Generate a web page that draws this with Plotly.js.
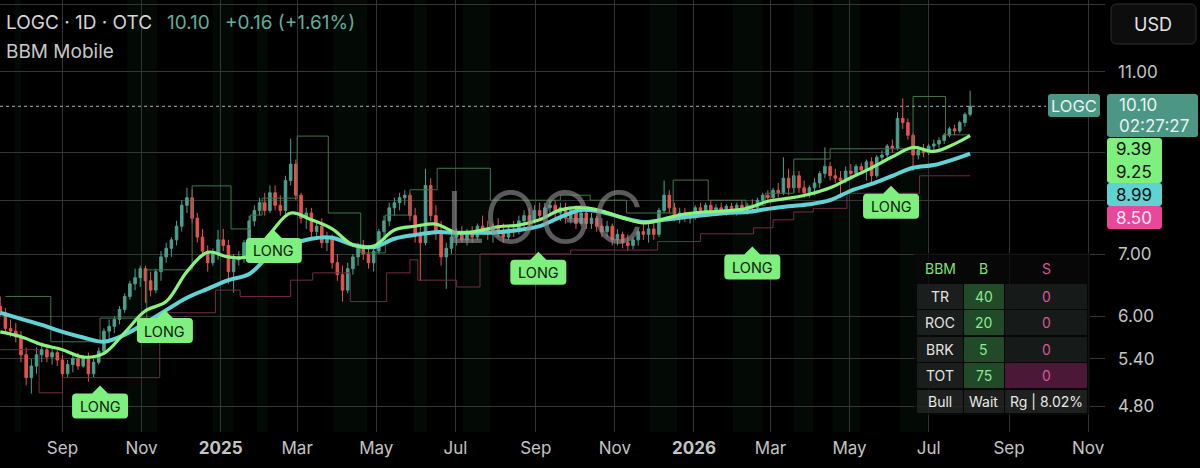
<!DOCTYPE html>
<html><head><meta charset="utf-8">
<script src="https://cdn.plot.ly/plotly-3.0.1.min.js"></script>
<style>html,body{margin:0;padding:0;background:#000;overflow:hidden}#chart{width:1200px;height:468px}</style>
</head><body><div id="chart"></div>
<script>
// ---------- DATA ----------
const dates = ['2024-07-15','2024-07-19','2024-07-23','2024-07-27','2024-07-31',
'2024-08-04','2024-08-08','2024-08-12','2024-08-16','2024-08-20','2024-08-24','2024-08-28',
'2024-09-01','2024-09-05','2024-09-09','2024-09-13','2024-09-17','2024-09-21','2024-09-25','2024-09-29',
'2024-10-03','2024-10-07','2024-10-11','2024-10-15','2024-10-19','2024-10-23','2024-10-27','2024-10-31',
'2024-11-04','2024-11-08','2024-11-12','2024-11-16','2024-11-20','2024-11-24','2024-11-28',
'2024-12-02','2024-12-06','2024-12-10','2024-12-14','2024-12-18','2024-12-22','2024-12-26','2024-12-30',
'2025-01-03','2025-01-07','2025-01-11','2025-01-15','2025-01-19','2025-01-23','2025-01-27','2025-01-31',
'2025-02-04','2025-02-08','2025-02-12','2025-02-16','2025-02-20','2025-02-24','2025-02-28',
'2025-03-04','2025-03-08','2025-03-12','2025-03-16','2025-03-20','2025-03-24','2025-03-28',
'2025-04-01','2025-04-05','2025-04-09','2025-04-13','2025-04-17','2025-04-21','2025-04-25','2025-04-29',
'2025-05-03','2025-05-07','2025-05-11','2025-05-15','2025-05-19','2025-05-23','2025-05-27','2025-05-31',
'2025-06-04','2025-06-08','2025-06-12','2025-06-16','2025-06-20','2025-06-24','2025-06-28',
'2025-07-02','2025-07-06','2025-07-10','2025-07-14','2025-07-18','2025-07-22','2025-07-26','2025-07-30',
'2025-08-03','2025-08-07','2025-08-11','2025-08-15','2025-08-19','2025-08-23','2025-08-27','2025-08-31',
'2025-09-04','2025-09-08','2025-09-12','2025-09-16','2025-09-20','2025-09-24','2025-09-28',
'2025-10-02','2025-10-06','2025-10-10','2025-10-14','2025-10-18','2025-10-22','2025-10-26','2025-10-30',
'2025-11-03','2025-11-07','2025-11-11','2025-11-15','2025-11-19','2025-11-23','2025-11-27',
'2025-12-01','2025-12-05','2025-12-09','2025-12-13','2025-12-17','2025-12-21','2025-12-25','2025-12-29',
'2026-01-02','2026-01-06','2026-01-10','2026-01-14','2026-01-18','2026-01-22','2026-01-26','2026-01-30',
'2026-02-03','2026-02-07','2026-02-11','2026-02-15','2026-02-19','2026-02-23','2026-02-27',
'2026-03-03','2026-03-07','2026-03-11','2026-03-15','2026-03-19','2026-03-23','2026-03-27','2026-03-31',
'2026-04-04','2026-04-08','2026-04-12','2026-04-16','2026-04-20','2026-04-24','2026-04-28',
'2026-05-02','2026-05-06','2026-05-10','2026-05-14','2026-05-18','2026-05-22','2026-05-26','2026-05-30',
'2026-06-03','2026-06-07','2026-06-11','2026-06-15','2026-06-19','2026-06-23','2026-06-27',
'2026-07-01','2026-07-05','2026-07-09','2026-07-13','2026-07-17','2026-07-21','2026-07-25','2026-07-29',
'2026-08-02'];

const openPx = [6.15,6.05,5.82,5.78,5.70,5.45,5.15,5.30,5.45,5.52,
5.42,5.48,5.38,5.20,5.32,5.40,5.30,5.42,5.20,5.35,
5.50,5.78,5.85,5.95,6.10,6.30,6.50,6.60,6.75,6.55,
6.40,6.70,6.95,7.10,7.25,7.50,7.90,8.05,7.65,7.30,
7.05,6.85,7.00,7.25,7.15,6.70,6.90,6.95,7.20,7.60,
7.80,7.95,7.80,8.15,7.90,7.80,8.40,8.75,8.10,7.65,
7.75,7.40,7.50,7.20,7.30,6.85,6.65,6.40,6.75,6.95,
7.10,7.00,6.85,7.05,7.40,7.60,7.85,7.95,8.05,8.10,
7.70,7.35,7.20,8.30,7.70,7.40,6.95,7.10,7.30,7.35,
7.25,7.40,7.30,7.50,7.45,7.35,7.50,7.40,7.30,7.45,
7.40,7.60,7.70,7.60,7.80,7.70,7.85,7.90,7.75,7.85,
7.65,7.80,7.55,7.75,7.55,7.65,7.50,7.40,7.50,7.25,
7.35,7.20,7.15,7.25,7.40,7.35,7.45,7.35,7.80,8.10,
7.85,7.70,7.75,7.65,7.70,7.85,7.80,7.90,7.80,7.85,
7.78,7.88,7.80,7.90,7.82,7.90,7.85,8.00,8.10,8.05,
8.20,8.15,8.45,8.25,8.50,8.25,8.15,8.25,8.35,8.55,
8.70,8.50,8.45,8.40,8.60,8.55,8.70,8.62,8.80,8.50,
8.90,8.95,9.15,9.10,9.80,9.70,9.40,8.95,9.05,9.00,
9.15,9.20,9.28,9.40,9.55,9.50,9.70,9.90];

const highPx = [6.30,6.12,5.95,5.90,5.78,5.55,5.40,5.55,5.62,5.60,
5.55,5.52,5.45,5.38,5.45,5.48,5.45,5.48,5.40,5.55,
5.82,5.95,6.00,6.15,6.35,6.55,6.75,6.80,6.80,6.70,
6.75,7.05,7.20,7.30,7.60,8.00,8.25,8.22,7.75,7.45,
7.15,7.10,7.43,7.45,7.25,7.00,7.05,7.25,7.70,7.90,
8.05,8.15,8.30,8.30,8.10,8.50,9.32,8.85,8.15,7.85,
7.85,7.60,7.65,7.40,7.35,7.00,6.80,6.85,7.00,7.20,
7.25,7.15,7.10,7.45,7.70,7.95,8.05,8.15,8.20,8.15,
7.85,7.55,8.65,8.45,7.90,7.60,7.20,7.40,7.45,7.50,
7.45,7.50,7.55,7.70,7.60,7.55,7.65,7.55,7.50,7.60,
7.70,7.80,7.85,7.90,7.95,7.95,8.00,8.00,7.95,7.95,
7.85,7.90,7.85,7.85,7.75,7.70,7.65,7.60,7.55,7.45,
7.40,7.35,7.30,7.45,7.55,7.55,7.60,7.85,8.40,8.20,
7.95,7.85,7.85,7.75,7.90,7.95,7.95,8.00,7.92,7.95,
7.92,7.95,7.95,7.98,7.95,8.02,8.05,8.15,8.20,8.25,
8.35,8.90,8.65,8.60,8.60,8.40,8.30,8.45,8.60,9.12,
8.80,8.65,8.60,8.70,8.75,8.75,8.78,8.85,8.90,8.95,
9.05,9.20,9.30,9.95,10.30,9.80,9.45,9.15,9.20,9.20,
9.30,9.35,9.45,9.60,9.65,9.75,9.95,10.50];

const lowPx = [6.00,5.75,5.70,5.62,5.35,5.05,4.95,5.20,5.35,5.35,
5.32,5.30,5.15,5.15,5.22,5.25,5.28,5.10,5.15,5.32,
5.48,5.65,5.75,5.88,6.05,6.25,6.40,6.45,6.20,6.30,
6.35,6.55,6.85,6.95,7.15,7.40,7.75,7.55,7.20,6.95,
6.70,6.80,6.90,7.05,6.50,6.36,6.80,6.85,7.15,7.50,
7.70,7.70,7.75,7.80,7.70,7.70,8.30,8.00,7.55,7.45,
7.30,7.25,7.10,7.05,6.75,6.55,6.22,6.35,6.65,6.80,
6.90,6.75,6.70,7.00,7.30,7.50,7.70,7.80,7.90,7.60,
7.20,6.55,7.15,7.60,7.25,6.80,6.42,7.00,7.15,7.20,
7.15,7.20,7.25,7.35,7.25,7.20,7.30,7.20,7.25,7.30,
7.35,7.45,7.50,7.55,7.60,7.65,7.70,7.65,7.60,7.55,
7.55,7.45,7.50,7.45,7.45,7.40,7.30,7.30,7.15,7.15,
7.10,7.05,7.08,7.15,7.25,7.20,7.25,7.30,7.75,7.75,
7.60,7.55,7.58,7.55,7.62,7.70,7.70,7.72,7.70,7.70,
7.70,7.72,7.70,7.75,7.72,7.78,7.80,7.90,7.95,8.00,
8.05,8.10,8.10,8.15,8.15,8.05,8.05,8.10,8.25,8.45,
8.40,8.35,8.05,8.35,8.45,8.50,8.55,8.40,8.35,8.45,
8.75,8.85,9.00,9.05,9.55,9.30,8.60,8.85,8.90,8.95,
9.05,9.10,9.20,9.35,9.40,9.45,9.60,9.85];

const closePx = [6.05,5.82,5.78,5.70,5.45,5.15,5.30,5.45,5.52,5.42,
5.48,5.38,5.20,5.32,5.40,5.30,5.42,5.20,5.35,5.50,
5.78,5.85,5.95,6.10,6.30,6.50,6.60,6.75,6.55,6.40,
6.70,6.95,7.10,7.25,7.50,7.90,8.05,7.65,7.30,7.05,
6.85,7.00,7.25,7.15,6.70,6.90,6.95,7.20,7.60,7.80,
7.95,7.80,8.15,7.90,7.80,8.40,8.75,8.10,7.65,7.75,
7.40,7.50,7.20,7.30,6.85,6.65,6.40,6.75,6.95,7.10,
7.00,6.85,7.05,7.40,7.60,7.85,7.95,8.05,8.10,7.70,
7.35,7.20,8.30,7.70,7.40,6.95,7.10,7.30,7.35,7.25,
7.40,7.30,7.50,7.45,7.35,7.50,7.40,7.30,7.45,7.40,
7.60,7.70,7.60,7.80,7.70,7.85,7.90,7.75,7.85,7.65,
7.80,7.55,7.75,7.55,7.65,7.50,7.40,7.50,7.25,7.35,
7.20,7.15,7.25,7.40,7.35,7.45,7.35,7.80,8.10,7.85,
7.70,7.75,7.65,7.70,7.85,7.80,7.90,7.80,7.85,7.78,
7.88,7.80,7.90,7.82,7.90,7.85,8.00,8.10,8.05,8.20,
8.15,8.45,8.25,8.50,8.25,8.15,8.25,8.35,8.55,8.70,
8.50,8.45,8.40,8.60,8.55,8.70,8.62,8.80,8.50,8.90,
8.95,9.15,9.10,9.80,9.70,9.40,8.95,9.05,9.00,9.15,
9.20,9.28,9.40,9.55,9.50,9.70,9.90,10.10];

const maDates = ['2024-07-15','2024-07-31','2024-08-16','2024-09-01','2024-09-17','2024-10-03','2024-10-19','2024-11-04',
'2024-11-20','2024-12-06','2024-12-22','2025-01-07','2025-01-23','2025-02-08','2025-02-24','2025-03-12',
'2025-03-28','2025-04-13','2025-04-29','2025-05-15','2025-05-31','2025-06-16','2025-07-02','2025-07-18',
'2025-08-03','2025-08-19','2025-09-04','2025-09-20','2025-10-06','2025-10-22','2025-11-07','2025-11-23',
'2025-12-09','2025-12-25','2026-01-10','2026-01-26','2026-02-11','2026-02-27','2026-03-15','2026-03-31',
'2026-04-16','2026-05-02','2026-05-18','2026-06-03','2026-06-19','2026-07-05','2026-07-21','2026-08-02'];
const fastMA = [5.77,5.70,5.59,5.52,5.42,5.47,5.76,6.08,6.22,6.70,7.03,6.95,6.96,7.36,7.75,7.62,
7.45,7.16,7.14,7.43,7.50,7.54,7.38,7.41,7.49,7.52,7.62,7.81,7.86,7.79,7.66,7.56,
7.64,7.73,7.77,7.79,7.84,7.98,8.04,8.12,8.25,8.46,8.67,8.91,9.12,9.03,9.20,9.39];
const slowMA = [6.05,5.96,5.87,5.77,5.69,5.63,5.73,5.90,6.09,6.28,6.42,6.56,6.66,6.98,7.16,7.27,
7.29,7.16,7.12,7.27,7.34,7.39,7.38,7.38,7.39,7.43,7.50,7.67,7.81,7.77,7.66,7.58,
7.62,7.67,7.71,7.75,7.77,7.83,7.88,7.92,8.00,8.19,8.33,8.50,8.67,8.73,8.86,8.98];

const upperDates = ['2024-07-19','2024-08-23','2024-09-30','2024-11-05','2024-12-10','2025-01-09','2025-01-24','2025-02-02',
'2025-03-01','2025-03-25','2025-04-19','2025-05-08','2025-05-27','2025-06-17','2025-07-28','2025-09-20','2025-10-13',
'2025-11-10','2025-12-16','2026-01-12','2026-02-10','2026-02-25','2026-03-19','2026-04-16','2026-06-19','2026-07-14','2026-08-02'];
const upperBand = [6.30,5.63,5.97,6.73,8.29,7.45,7.71,8.04,9.38,7.75,7.02,7.71,8.21,8.66,8.00,8.10,8.00,
7.75,8.41,8.00,7.90,8.14,8.86,9.09,10.35,9.41,9.41];
const lowerDates = ['2024-07-15','2024-08-14','2024-09-01','2024-11-15','2024-12-28','2025-01-16','2025-02-24','2025-03-13',
'2025-04-11','2025-05-09','2025-05-27','2025-06-02','2025-07-02','2025-07-20','2025-09-28','2025-12-04','2026-01-06',
'2026-02-16','2026-03-03','2026-03-19','2026-04-03','2026-04-29','2026-06-24','2026-08-02'];
const lowerBand = [5.52,4.96,5.15,6.05,6.40,6.30,6.56,6.68,6.22,6.68,6.90,6.56,6.45,7.00,7.07,7.22,7.36,
7.47,7.62,7.77,7.84,8.14,8.50,8.50];

const longDates = ['2024-09-30','2024-11-19','2025-02-11','2025-09-03','2026-02-15','2026-06-02'];
const longPrices = [5.05,6.09,7.43,7.04,7.13,8.29];

const bullZoneStart = ['2024-07-26','2024-10-21','2024-12-26','2025-01-29','2025-03-29','2025-05-30','2025-07-07',
'2025-11-28','2026-01-31','2026-03-19','2026-04-18','2026-06-09'];
const bullZoneEnd = ['2024-07-31','2024-11-13','2025-01-11','2025-02-06','2025-04-24','2025-06-09','2025-07-28',
'2025-12-19','2026-02-23','2026-04-03','2026-05-09','2026-06-30'];

const monthTicks = ['2024-09-01','2024-11-01','2025-01-01','2025-03-01','2025-05-01','2025-07-01','2025-09-01',
'2025-11-01','2026-01-01','2026-03-01','2026-05-01','2026-07-01','2026-09-01','2026-11-01'];
const monthLabels = ['Sep','Nov','<b>2025</b>','Mar','May','Jul','Sep','Nov','<b>2026</b>','Mar','May','Jul','Sep','Nov'];
const priceTicks = [4.8,5.4,6,7,8,9,11,13];
const priceTickLabels = ['4.80','5.40','6.00','7.00','','','11.00',''];

const symbol = 'LOGC';
const headerMain = 'LOGC · 1D · OTC';
const lastPrice = 10.10;
const change = '+0.16 (+1.61%)';
const countdown = '02:27:27';
const indicatorName = 'BBM Mobile';
const sideLabels = [9.39, 9.25, 8.99, 8.50];

const tableHeader = ['BBM','B','S'];
const tableRowNames = ['TR','ROC','BRK','TOT'];
const buyScores = [40,20,5,75];
const sellScores = [0,0,0,0];
const statusRow = ['Bull','Wait','Rg | 8.02%'];

// ---------- STYLE / LAYOUT ----------
const FONT = 'Inter, "Noto Sans", Roboto, sans-serif';
const W = 1105, H = 432;
const px = x => x / W;
const py = y => 1 - y / H;
const GRID = '#353535';
const TEAL = '#4b9684', GREEN = '#7df07d', CYAN = '#5ed4d2', PINK = '#e8479a';

function rrect(x0, y0, x1, y1, r) {
  const X = v => px(v).toFixed(5), Y = v => py(v).toFixed(5);
  return `M${X(x0+r)},${Y(y0)} L${X(x1-r)},${Y(y0)} Q${X(x1)},${Y(y0)} ${X(x1)},${Y(y0+r)} L${X(x1)},${Y(y1-r)} Q${X(x1)},${Y(y1)} ${X(x1-r)},${Y(y1)} L${X(x0+r)},${Y(y1)} Q${X(x0)},${Y(y1)} ${X(x0)},${Y(y1-r)} L${X(x0)},${Y(y0+r)} Q${X(x0)},${Y(y0)} ${X(x0+r)},${Y(y0)} Z`;
}
function box(x0, y0, x1, y1, fill, r, line) {
  return {type:'path', xref:'paper', yref:'paper', path: rrect(x0,y0,x1,y1,r||0.01), fillcolor: fill,
    line: line ? {color: line, width: 1} : {width: 0}, layer: 'above'};
}
function txt(text, x, y, size, color, anchor, extra) {
  return Object.assign({xref:'paper', yref:'paper', x: px(x), y: py(y), text: text, showarrow: false,
    xanchor: anchor || 'center', yanchor: 'middle', font: {family: FONT, size: size, color: color}}, extra || {});
}

const traces = [
  {type:'candlestick', x: dates, open: openPx, high: highPx, low: lowPx, close: closePx,
   increasing: {line: {color: '#4aa08e', width: 1}, fillcolor: '#4aa08e'},
   decreasing: {line: {color: '#e5534f', width: 1}, fillcolor: '#e5534f'},
   whiskerwidth: 0, hoverinfo: 'skip', showlegend: false},
  {type:'scatter', mode:'lines', x: upperDates, y: upperBand, line: {color: '#44734a', width: 1, shape: 'hv'}, hoverinfo:'skip', showlegend:false},
  {type:'scatter', mode:'lines', x: lowerDates, y: lowerBand, line: {color: '#722c44', width: 1, shape: 'hv'}, hoverinfo:'skip', showlegend:false},
  {type:'scatter', mode:'lines', x: maDates, y: slowMA, line: {color: '#62d2d4', width: 4, shape: 'spline', smoothing: 1}, hoverinfo:'skip', showlegend:false},
  {type:'scatter', mode:'lines', x: maDates, y: fastMA, line: {color: '#8cf27f', width: 3.2, shape: 'spline', smoothing: 1}, hoverinfo:'skip', showlegend:false}
];

const shapes = [];
const annotations = [];

// faint bull background zones
bullZoneStart.forEach((s, i) => {
  shapes.push({type:'rect', xref:'x', yref:'paper', x0: s, x1: bullZoneEnd[i], y0: 0, y1: 1,
    fillcolor: 'rgba(30,90,45,0.11)', line: {width: 0}, layer: 'below'});
});

// watermark
annotations.push(txt(symbol, 544, 217, 72, 'rgba(145,145,145,0.62)', 'center',
  {font:{family: FONT, size: 72, color:'rgba(145,145,145,0.62)', weight: 300}, borderpad: 0}));

// last price dotted line
shapes.push({type:'line', xref:'paper', yref:'y', x0: 0, x1: px(1046), y0: lastPrice, y1: lastPrice,
  line: {color: '#8c8c8c', width: 1.3, dash: 'dot'}, layer: 'above'});

// LONG labels (callouts pointing up at signal price)
const longPath = 'M0,0 L8,-8 L24,-8 Q28,-8 28,-12 L28,-29 Q28,-33 24,-33 L-24,-33 Q-28,-33 -28,-29 L-28,-12 Q-28,-8 -24,-8 L-8,-8 Z';
longDates.forEach((d, i) => {
  shapes.push({type:'path', xref:'x', yref:'y', xsizemode:'pixel', ysizemode:'pixel', xanchor: d, yanchor: longPrices[i],
    path: longPath, fillcolor: GREEN, line: {width: 0}, layer: 'above'});
  annotations.push({xref:'x', yref:'y', x: d, y: Math.log10(longPrices[i]), yshift: -21, text: 'LONG', showarrow: false,
    xanchor: 'center', yanchor: 'middle', borderpad: 0, font: {family: FONT, size: 14.5, color: '#0d1a0d'}});
});

// header
annotations.push(txt(headerMain, 4, 23, 19, '#d4d4d4', 'left'));
annotations.push(txt(lastPrice.toFixed(2), 165, 23, 19, '#5fae9c', 'left'));
annotations.push(txt(change, 223, 23, 19, '#5fae9c', 'left'));
annotations.push(txt(indicatorName, 4, 52, 19, '#c8c8c8', 'left'));

// USD button
shapes.push(box(1111, 4, 1196, 44, '#0d0d0d', 6, '#2f2f2f'));
annotations.push(txt('USD', 1153, 24, 18, '#e4e4e4'));

// right price labels
shapes.push(box(1048, 94, 1100, 117, TEAL, 3));
annotations.push(txt(symbol, 1074, 106, 16.5, '#e8f4f0'));
shapes.push(box(1107, 94, 1198, 137, TEAL, 3));
annotations.push(txt(lastPrice.toFixed(2), 1117, 105, 17, '#e8f4f0', 'left'));
annotations.push(txt(countdown, 1117, 126, 17, '#e8f4f0', 'left'));
shapes.push(box(1107, 138, 1162, 183, GREEN, 3));
shapes.push(box(1107, 183, 1162, 206, CYAN, 3));
shapes.push(box(1107, 206, 1162, 229, PINK, 3));
annotations.push(txt(sideLabels[0].toFixed(2), 1134, 149, 17, '#111'));
annotations.push(txt(sideLabels[1].toFixed(2), 1134, 172, 17, '#111'));
annotations.push(txt(sideLabels[2].toFixed(2), 1134, 195, 17, '#111'));
annotations.push(txt(sideLabels[3].toFixed(2), 1134, 218, 17, '#fde8f2'));

// table
const colX = [[917,963],[964,1004],[1005,1087]];
const rowY = [[255,282],[284,309],[310,335],[337,362],[363,388],[390,413]];
shapes.push(box(914, 253, 1090, 415, 'rgba(10,10,10,0.75)', 1));
const cx = c => (colX[c][0] + colX[c][1]) / 2;
const cy = r => (rowY[r][0] + rowY[r][1]) / 2;
annotations.push(txt(tableHeader[0], cx(0), cy(0), 14, '#7fe07f'));
annotations.push(txt(tableHeader[1], cx(1), cy(0), 14, '#7fe07f'));
annotations.push(txt(tableHeader[2], cx(2), cy(0), 14, '#d4579a'));
tableRowNames.forEach((name, i) => {
  const r = i + 1;
  shapes.push(box(colX[0][0], rowY[r][0], colX[0][1], rowY[r][1], '#1a1f1d', 1));
  shapes.push(box(colX[1][0], rowY[r][0], colX[1][1], rowY[r][1], '#214a28', 1));
  shapes.push(box(colX[2][0], rowY[r][0], colX[2][1], rowY[r][1], name === 'TOT' ? '#4b1838' : '#161a18', 1));
  annotations.push(txt(name, cx(0), cy(r), 14, '#e4e4e4'));
  annotations.push(txt(String(buyScores[i]), cx(1), cy(r), 14, '#8fe88f'));
  annotations.push(txt(String(sellScores[i]), cx(2), cy(r), 14, '#d8589a'));
});
statusRow.forEach((t, c) => {
  shapes.push(box(colX[c][0], rowY[5][0], colX[c][1], rowY[5][1], 'rgba(48,52,50,0.55)', 1));
  annotations.push(txt(t, cx(c), cy(5), 14, '#e8e8e8'));
});

const layout = {
  width: 1200, height: 468,
  margin: {l: 0, r: 95, t: 0, b: 36, pad: 0},
  paper_bgcolor: '#000', plot_bgcolor: '#000',
  showlegend: false, hovermode: false, dragmode: false,
  font: {family: FONT, color: '#c4c4c4'},
  xaxis: {type: 'date', range: ['2024-07-14 20:00', '2026-11-14'], tickvals: monthTicks, ticktext: monthLabels,
    showgrid: true, gridcolor: GRID, gridwidth: 1, zeroline: false, showline: false, ticks: '',
    tickfont: {family: FONT, size: 17, color: '#c4c4c4'}, rangeslider: {visible: false}, ticklabelstandoff: 4, fixedrange: true},
  yaxis: {type: 'log', side: 'right', range: [Math.log10(4.50), Math.log10(13.15)], tickvals: priceTicks, ticktext: priceTickLabels,
    showgrid: true, gridcolor: GRID, gridwidth: 1, zeroline: false, showline: false, ticks: '',
    tickfont: {family: FONT, size: 17, color: '#c4c4c4'}, ticklabelstandoff: 12, fixedrange: true},
  shapes: shapes,
  annotations: annotations
};

Plotly.newPlot('chart', traces, layout, {staticPlot: true, displayModeBar: false});
</script>
</body></html>
